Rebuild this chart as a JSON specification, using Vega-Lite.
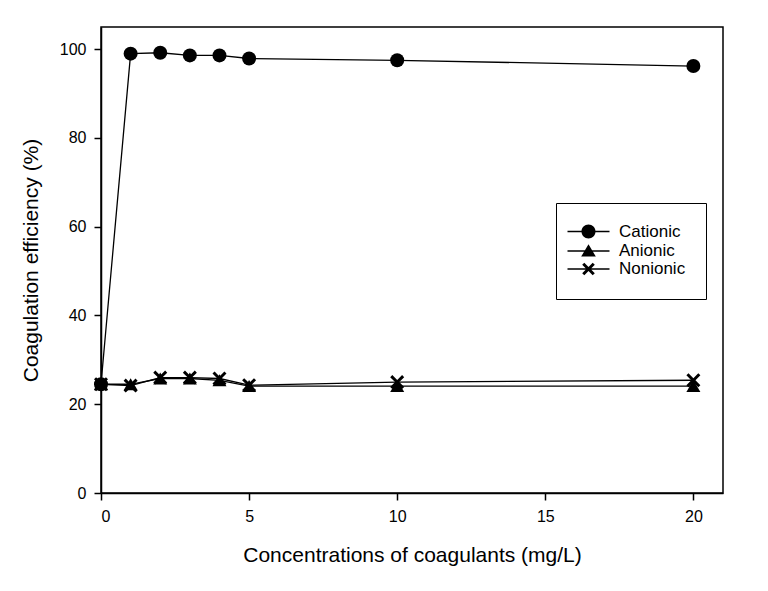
{
  "$schema": "https://vega.github.io/schema/vega-lite/v6.json",
  "width": 622,
  "height": 466,
  "autosize": {"type": "none"},
  "padding": {"left": 101, "top": 27, "right": 45, "bottom": 98},
  "background": "white",
  "config": {
    "view": {"stroke": "black", "strokeWidth": 1.5},
    "font": "Liberation Sans"
  },
  "data": {
    "values": [
      {"c": 0, "e": 24.5, "type": "Cationic"},
      {"c": 1, "e": 99.0, "type": "Cationic"},
      {"c": 2, "e": 99.2, "type": "Cationic"},
      {"c": 3, "e": 98.6, "type": "Cationic"},
      {"c": 4, "e": 98.6, "type": "Cationic"},
      {"c": 5, "e": 97.9, "type": "Cationic"},
      {"c": 10, "e": 97.5, "type": "Cationic"},
      {"c": 20, "e": 96.2, "type": "Cationic"},
      {"c": 0, "e": 24.5, "type": "Anionic"},
      {"c": 1, "e": 24.5, "type": "Anionic"},
      {"c": 2, "e": 25.8, "type": "Anionic"},
      {"c": 3, "e": 25.8, "type": "Anionic"},
      {"c": 4, "e": 25.4, "type": "Anionic"},
      {"c": 5, "e": 24.1, "type": "Anionic"},
      {"c": 10, "e": 24.1, "type": "Anionic"},
      {"c": 20, "e": 24.1, "type": "Anionic"},
      {"c": 0, "e": 24.5, "type": "Nonionic"},
      {"c": 1, "e": 24.2, "type": "Nonionic"},
      {"c": 2, "e": 26.0, "type": "Nonionic"},
      {"c": 3, "e": 26.0, "type": "Nonionic"},
      {"c": 4, "e": 25.8, "type": "Nonionic"},
      {"c": 5, "e": 24.3, "type": "Nonionic"},
      {"c": 10, "e": 25.0, "type": "Nonionic"},
      {"c": 20, "e": 25.4, "type": "Nonionic"}
    ]
  },
  "encoding": {
    "x": {
      "field": "c", "type": "quantitative",
      "scale": {"domain": [0, 21], "nice": false, "zero": false},
      "axis": {
        "title": "Concentrations of coagulants (mg/L)",
        "values": [0, 5, 10, 15, 20],
        "grid": false, "domainColor": "black", "domainWidth": 1.5,
        "tickColor": "black", "tickSize": 7, "tickWidth": 1.5,
        "labelFontSize": 16, "labelColor": "black", "labelPadding": 8,
        "titleFontSize": 21, "titleFontWeight": "normal", "titleColor": "black", "titlePadding": 20
      }
    },
    "y": {
      "field": "e", "type": "quantitative",
      "scale": {"domain": [0, 105], "nice": false},
      "axis": {
        "title": "Coagulation efficiency (%)",
        "values": [0, 20, 40, 60, 80, 100],
        "grid": false, "domainColor": "black", "domainWidth": 1.5,
        "tickColor": "black", "tickSize": 7, "tickWidth": 1.5,
        "labelFontSize": 16, "labelColor": "black", "labelPadding": 8,
        "titleFontSize": 21, "titleFontWeight": "normal", "titleColor": "black", "titlePadding": 18
      }
    }
  },
  "layer": [
    {
      "mark": {"type": "line", "color": "black", "strokeWidth": 1.3},
      "encoding": {"detail": {"field": "type"}}
    },
    {
      "transform": [{"filter": "datum.type === 'Cationic'"}],
      "mark": {"type": "point", "filled": true, "color": "black", "opacity": 1, "size": 196, "shape": "circle"}
    },
    {
      "transform": [{"filter": "datum.type === 'Anionic'"}],
      "mark": {"type": "point", "filled": true, "color": "black", "opacity": 1, "size": 196, "shape": "triangle-up"}
    },
    {
      "transform": [{"filter": "datum.type === 'Nonionic'"}],
      "mark": {"type": "point", "filled": true, "color": "black", "opacity": 1, "size": 196, "shape": "M-1,-0.7L-0.7,-1L0,-0.3L0.7,-1L1,-0.7L0.3,0L1,0.7L0.7,1L0,0.3L-0.7,1L-1,0.7L-0.3,0Z"}
    },
    {
      "mark": {"type": "point", "filled": true, "color": "black", "opacity": 0, "size": 196},
      "encoding": {
        "shape": {
          "field": "type", "type": "nominal",
          "scale": {
            "domain": ["Cationic", "Anionic", "Nonionic"],
            "range": [
              "M-3,-0.1H-0.5V0.1H-3ZM0.5,-0.1H3V0.1H0.5ZM-1,0A1,1,0,1,1,1,0A1,1,0,1,1,-1,0Z",
              "M-3,-0.1H-0.3V0.1H-3ZM0.3,-0.1H3V0.1H0.3ZM0,-0.95L1.05,0.8L-1.05,0.8Z",
              "M-3,-0.1H-0.3V0.1H-3ZM0.3,-0.1H3V0.1H0.3ZM-0.9,-0.6L-0.6,-0.9L0,-0.3L0.6,-0.9L0.9,-0.6L0.3,0L0.9,0.6L0.6,0.9L0,0.3L-0.6,0.9L-0.9,0.6L-0.3,0Z"
            ]
          },
          "legend": {
            "title": null,
            "orient": "none",
            "legendX": 455,
            "legendY": 176,
            "strokeColor": "black",
            "padding": 20,
            "symbolSize": 196,
            "symbolOpacity": 1,
            "symbolFillColor": "black",
            "symbolOffset": 4,
            "labelFontSize": 17,
            "labelColor": "black",
            "labelOffset": 22,
            "rowPadding": -1.5
          }
        }
      }
    }
  ]
}
